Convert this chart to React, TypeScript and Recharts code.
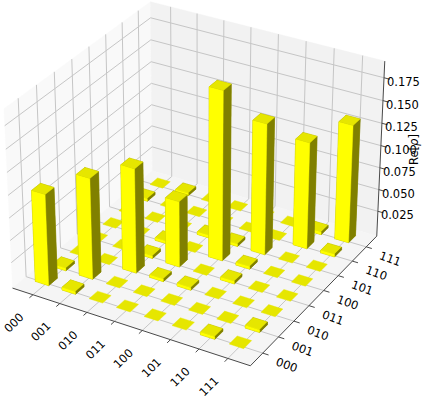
import React from 'react';
import { ScatterChart, Scatter, XAxis, YAxis } from 'recharts';

const basisLabels = ['000', '001', '010', '011', '100', '101', '110', '111'];
const zTicks = [0.025, 0.05, 0.075, 0.1, 0.125, 0.15, 0.175];
const zTickLabels = ['0.025', '0.050', '0.075', '0.100', '0.125', '0.150', '0.175'];
const zTitle = 'Re[';
const zTitleSymbol = 'ρ';

// Re[rho] by row (x index), each entry is one y index
const row000 = [0.102, 0.003, 0, 0, 0, 0, 0.003, 0];
const row001 = [0.003, 0.113, 0, 0, 0, 0, 0, 0.003];
const row010 = [0, 0, 0.117, 0.003, 0.003, 0, 0, 0];
const row011 = [0, 0, 0.003, 0.074, 0, 0.003, 0, 0];
const row100 = [0, 0, 0.003, 0, 0.189, 0.003, 0, 0];
const row101 = [0, 0, 0, 0.003, 0.003, 0.147, 0, 0];
const row110 = [0.003, 0, 0, 0, 0, 0, 0.12, 0.003];
const row111 = [0, 0.003, 0, 0, 0, 0, 0.003, 0.133];
const rows = [row000, row001, row010, row011, row100, row101, row110, row111];

const W = 423;
const H = 399;
// plane to pixel fit of the default mplot3d camera
const S = 229;
const CX = 198;
const CY = 175;
const XLIM = [-0.27, 8.27];
const YLIM = [-0.27, 8.27];
const ZLIM = [-0.004, 0.193];
const BOX = [1.19, 1.19, 0.893];
const U = [0.866, 0.5, 0];
const V = [-0.25, 0.433, 0.866];
const N = [0.433, -0.75, 0.5];

const TOP = '#e6e600';
const FRONT = '#ffff00';
const SIDE = '#808000';
const HIDDEN = '#999900';

type P = { x: number; y: number; depth: number };

const project = (a: number, b: number, c: number): P => {
  const p = [
    ((a - XLIM[0]) / (XLIM[1] - XLIM[0]) - 0.5) * BOX[0],
    ((b - YLIM[0]) / (YLIM[1] - YLIM[0]) - 0.5) * BOX[1],
    ((c - ZLIM[0]) / (ZLIM[1] - ZLIM[0]) - 0.5) * BOX[2],
  ];
  const dot = (q: number[]) => q[0] * p[0] + q[1] * p[1] + q[2] * p[2];
  const depth = 10 - dot(N);
  return { x: (dot(U) * 10) / depth, y: (dot(V) * 10) / depth, depth };
};

const mark = (pts: P[], color: string) => ({ x: pts[0].x, y: pts[0].y, pts, color });

const polyPoints = (props: any) => {
  const { cx, cy, payload } = props;
  return payload.pts
    .map((q: P) => `${cx + (q.x - payload.x) * S},${cy - (q.y - payload.y) * S}`)
    .join(' ');
};

const Face = (props: any) => (
  <polygon points={polyPoints(props)} fill={props.payload.color} stroke={props.payload.color} strokeWidth={0.4} />
);
const Stroke = (props: any) => (
  <polyline points={polyPoints(props)} fill="none" stroke={props.payload.color} strokeWidth={1} />
);
const Label = (props: any) => {
  const { cx, cy, payload } = props;
  const px = cx + payload.dx;
  const py = cy + payload.dy;
  return (
    <text
      x={px}
      y={py}
      fontFamily="DejaVu Sans"
      fontSize={11.5}
      fill="#000"
      textAnchor={payload.anchor}
      dominantBaseline="central"
      transform={payload.rotate ? `rotate(${payload.rotate} ${px} ${py})` : undefined}
    >
      {payload.text}
      {payload.symbol ? <tspan fontStyle="italic">{payload.symbol}</tspan> : null}
      {payload.symbol ? ']' : null}
    </text>
  );
};

const [x0, x1] = XLIM;
const [y0, y1] = YLIM;
const [z0, z1] = ZLIM;

const walls = [
  mark([project(x0, y0, z0), project(x0, y1, z0), project(x0, y1, z1), project(x0, y0, z1)], '#f9f9f9'),
  mark([project(x0, y1, z0), project(x1, y1, z0), project(x1, y1, z1), project(x0, y1, z1)], '#f2f2f2'),
  mark([project(x0, y0, z0), project(x1, y0, z0), project(x1, y1, z0), project(x0, y1, z0)], '#f5f5f5'),
];

const GRID = '#c6c6c6';
const gridLines = [
  ...basisLabels.map((_, i) => mark([project(i + 0.5, y0, z0), project(i + 0.5, y1, z0), project(i + 0.5, y1, z1)], GRID)),
  ...basisLabels.map((_, j) => mark([project(x1, j + 0.5, z0), project(x0, j + 0.5, z0), project(x0, j + 0.5, z1)], GRID)),
  ...zTicks.map((z) => mark([project(x0, y0, z), project(x0, y1, z), project(x1, y1, z)], GRID)),
];

const AXIS = '#4a4a4a';
const axisLines = [
  mark([project(x0, y0, z0), project(x1, y0, z0)], AXIS),
  mark([project(x1, y0, z0), project(x1, y1, z0)], AXIS),
  mark([project(x1, y1, z0), project(x1, y1, z1)], AXIS),
  ...basisLabels.map((_, i) => mark([project(i + 0.5, y0, z0), project(i + 0.5, y0 - 0.2, z0)], AXIS)),
  ...basisLabels.map((_, j) => mark([project(x1, j + 0.5, z0), project(x1 + 0.2, j + 0.5, z0)], AXIS)),
  ...zTicks.map((z) => mark([project(x1, y1, z), project(x1 + 0.2, y1, z)], AXIS)),
];

const faces = rows
  .flatMap((row, i) =>
    row.map((dz, j) => {
      const a0 = i + 0.25;
      const a1 = i + 0.75;
      const b0 = j + 0.25;
      const b1 = j + 0.75;
      const top = [[a0, b0, dz], [a1, b0, dz], [a1, b1, dz], [a0, b1, dz], TOP];
      // a zero entry is just a flat tile
      const sides = dz === 0 ? [] : [
        [[a0, b0, 0], [a1, b0, 0], [a1, b1, 0], [a0, b1, 0], HIDDEN],
        [[a0, b1, 0], [a1, b1, 0], [a1, b1, dz], [a0, b1, dz], HIDDEN],
        [[a0, b0, 0], [a0, b1, 0], [a0, b1, dz], [a0, b0, dz], HIDDEN],
        [[a1, b0, 0], [a1, b1, 0], [a1, b1, dz], [a1, b0, dz], SIDE],
        [[a0, b0, 0], [a1, b0, 0], [a1, b0, dz], [a0, b0, dz], FRONT],
      ];
      return [...sides, top].map((f) => {
        const pts = (f.slice(0, 4) as number[][]).map((q) => project(q[0], q[1], q[2]));
        return {
          ...mark(pts, f[4] as string),
          mean: pts.reduce((s, q) => s + q.depth, 0) / 4,
        };
      });
    }),
  )
  .flat()
  .sort((a, b) => b.mean - a.mean);

const titleAnchor = project(x1, y1, (z0 + z1) / 2);

const labels = [
  ...basisLabels.map((text, i) => {
    const t = project(i + 0.5, y0, z0);
    return { x: t.x, y: t.y, dx: -19, dy: 28, rotate: -45, anchor: 'middle', text };
  }),
  ...basisLabels.map((text, j) => {
    const t = project(x1, j + 0.5, z0);
    return { x: t.x, y: t.y, dx: 24, dy: 12, rotate: 20, anchor: 'middle', text };
  }),
  ...zTicks.map((z, k) => {
    const t = project(x1, y1, z);
    return { x: t.x, y: t.y, dx: 3, dy: 4, rotate: 0, anchor: 'start', text: zTickLabels[k] };
  }),
  { x: titleAnchor.x, y: titleAnchor.y, dx: 33, dy: -1, rotate: -90, anchor: 'middle', text: zTitle, symbol: zTitleSymbol },
];

const App = () => (
  <div style={{ position: 'absolute', left: 0, top: 0, width: W, height: H }}>
    <ScatterChart width={W} height={H} margin={{ top: 0, right: 0, bottom: 0, left: 0 }}>
      <XAxis type="number" dataKey="x" hide domain={[-CX / S, (W - CX) / S]} />
      <YAxis type="number" dataKey="y" hide domain={[(CY - H) / S, CY / S]} />
      <Scatter data={walls} shape={Face} isAnimationActive={false} />
      <Scatter data={gridLines} shape={Stroke} isAnimationActive={false} />
      <Scatter data={axisLines} shape={Stroke} isAnimationActive={false} />
      <Scatter data={faces} shape={Face} isAnimationActive={false} />
      <Scatter data={labels} shape={Label} isAnimationActive={false} />
    </ScatterChart>
  </div>
);

export default App;
